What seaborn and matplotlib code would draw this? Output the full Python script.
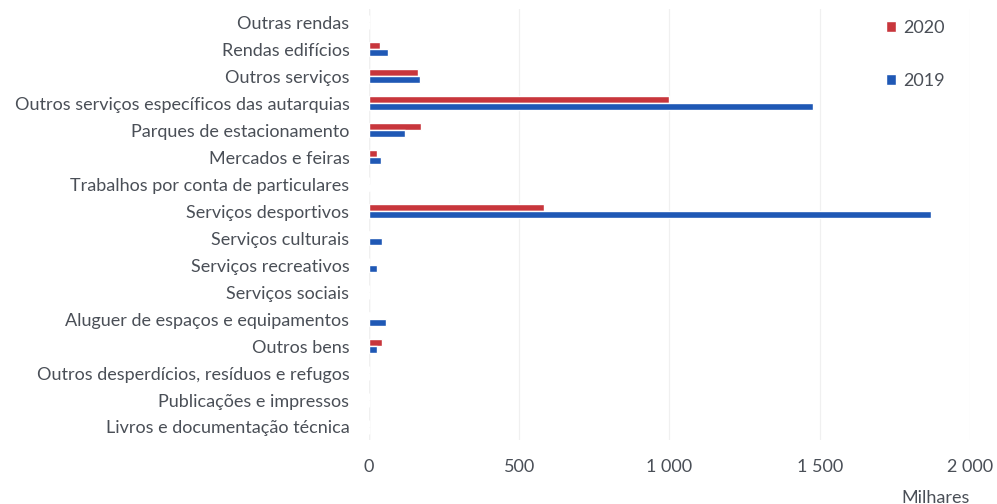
import matplotlib
matplotlib.use("Agg")
import matplotlib.pyplot as plt
import seaborn as sns
import pandas as pd

categorias = [
    "Outras rendas",
    "Rendas edifícios",
    "Outros serviços",
    "Outros serviços específicos das autarquias",
    "Parques de estacionamento",
    "Mercados e feiras",
    "Trabalhos por conta de particulares",
    "Serviços desportivos",
    "Serviços culturais",
    "Serviços recreativos",
    "Serviços sociais",
    "Aluguer de espaços e equipamentos",
    "Outros bens",
    "Outros desperdícios, resíduos e refugos",
    "Publicações e impressos",
    "Livros e documentação técnica",
]
valores_2020 = [0, 37, 163, 1000, 173, 27, 0, 583, 3, 0, 0, 3, 45, 0, 0, 0]
valores_2019 = [0, 63, 170, 1477, 120, 40, 3, 1870, 43, 27, 0, 57, 27, 0, 0, 0]
anos = ["2020", "2019"]
cores = {"2020": "#C8363C", "2019": "#1F58B5"}
xticks = [0, 500, 1000, 1500, 2000]
xtick_labels = ["0", "500", "1 000", "1 500", "2 000"]

df = pd.DataFrame({
    "categoria": categorias * 2,
    "ano": ["2020"] * len(categorias) + ["2019"] * len(categorias),
    "valor": valores_2020 + valores_2019,
})

sns.set_theme(style="white")
plt.rcParams["font.family"] = ["Lato", "DejaVu Sans"]
txt = "#4A4F57"

fig = plt.figure(figsize=(9.97, 5.04), dpi=100)
ax = fig.add_axes([0.370, 0.126, 0.603, 0.857])

sns.barplot(data=df, y="categoria", x="valor", hue="ano", hue_order=anos,
            order=categorias, palette=cores, orient="h", width=0.52,
            saturation=1, ax=ax)

ax.set_xlim(0, 2000)
ax.set_ylim(len(categorias) - 0.5, -0.5)
ax.set_xticks(xticks)
ax.set_xticklabels(xtick_labels)
ax.tick_params(axis="both", length=0, labelsize=13, colors=txt)
ax.tick_params(axis="x", pad=13)
ax.tick_params(axis="y", pad=14)
ax.grid(axis="x", color="#F0F0F0", linewidth=0.9)
ax.set_axisbelow(True)
for s in ax.spines.values():
    s.set_visible(False)
ax.axvline(0, color="#E6E6E6", linewidth=0.9, zorder=0)

ax.set_ylabel("")
ax.set_xlabel("Milhares", loc="right", fontsize=13, color=txt, labelpad=11)

handles, labels = ax.get_legend_handles_labels()
ax.legend(handles, labels, loc="upper right", bbox_to_anchor=(0.985, 1.012),
          frameon=False, fontsize=13, labelcolor=txt,
          handlelength=0.55, handleheight=0.55, handletextpad=0.4,
          labelspacing=2.05)

fig.savefig("out.png", dpi=100)
